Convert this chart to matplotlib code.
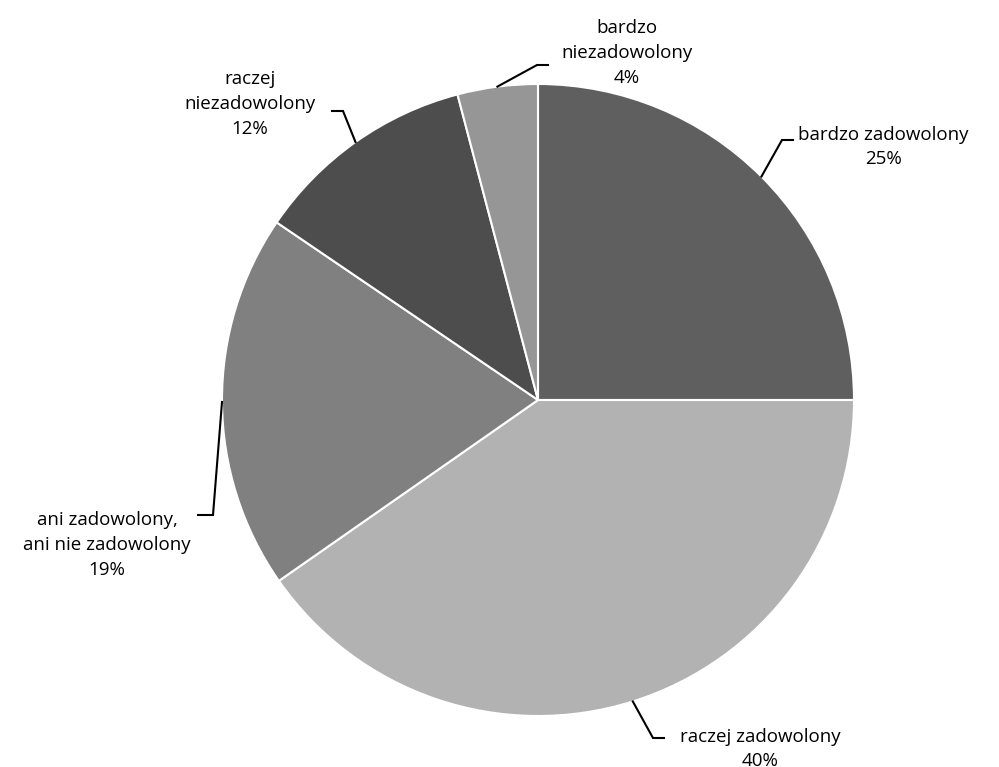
import numpy as np
import matplotlib.pyplot as plt

# ------------------------Data------------------------------------------------
names = ['bardzo zadowolony', 'raczej zadowolony',
         'ani zadowolony,\nani nie zadowolony', 'raczej\nniezadowolony',
         'bardzo\nniezadowolony']
values = [25.0, 40.3, 19.2, 11.4, 4.1]
pct_labels = ['25%', '40%', '19%', '12%', '4%']
colors = ['#5f5f5f', '#b2b2b2', '#808080', '#4d4d4d', '#969696']

# label text positions (pixels, from top-left) and elbow points of leader lines
W, H = 999, 767
text_pos = [(883, 147), (760, 749), (107, 545), (250, 104), (627, 53)]
elbows = [((782, 140), (793, 140)), ((653, 738), (664, 738)),
          ((213, 515), (198, 515)), ((343, 111), (332, 111)),
          ((537, 65), (548, 65))]
# ----------------------------------------------------------------------------
plt.rcParams['font.family'] = ['Open Sans', 'DejaVu Sans']

fig = plt.figure(figsize=(W/100, H/100), dpi=100)
ax = fig.add_axes([0, 0, 1, 1])
ax.set_xlim(0, W)
ax.set_ylim(0, H)
ax.set_aspect('equal')
ax.axis('off')

cx, cy, r = 538, H - 400, 316
wedges, _ = ax.pie(values, colors=colors, startangle=90, counterclock=False,
                   center=(cx, cy), radius=r,
                   wedgeprops=dict(edgecolor='white', linewidth=1.5))
ax.set_xlim(0, W)
ax.set_ylim(0, H)

for i, w in enumerate(wedges):
    ang = np.deg2rad((w.theta1 + w.theta2) / 2)
    x0 = cx + r*np.cos(ang)
    y0 = cy + r*np.sin(ang)
    (ex, ey), (fx, fy) = elbows[i]
    ax.plot([x0, ex, fx], [y0, H - ey, H - fy], color='black', lw=1.5,
            solid_joinstyle='miter')
    tx, ty = text_pos[i]
    ax.text(tx, H - ty, names[i] + '\n' + pct_labels[i], ha='center',
            va='center', fontsize=13.5, linespacing=1.5, color='black')

plt.savefig('out.png', dpi=100)
